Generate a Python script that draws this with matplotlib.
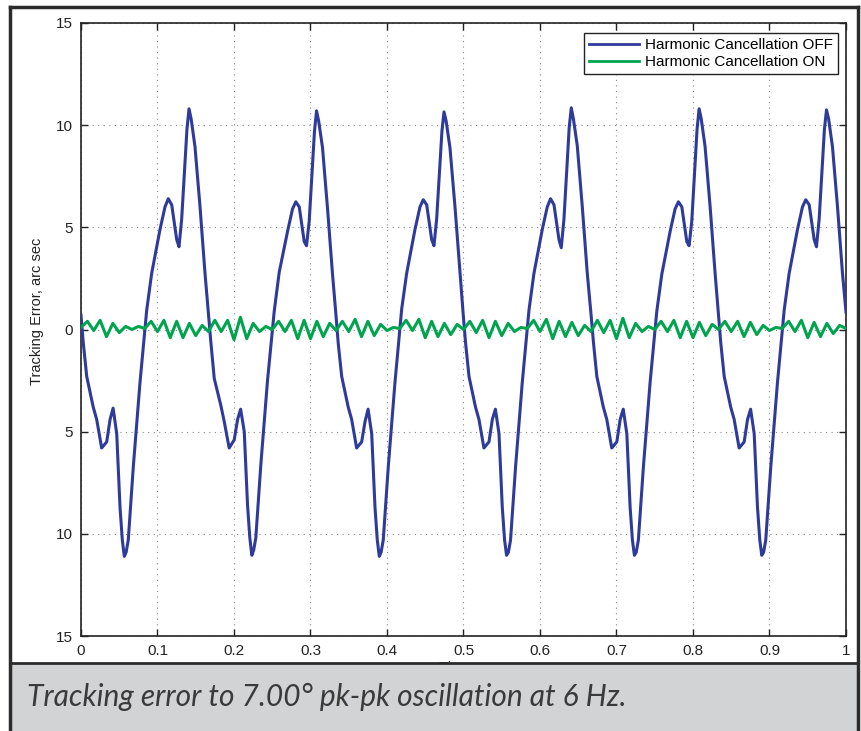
import numpy as np
import matplotlib
matplotlib.use("Agg")
import matplotlib.pyplot as plt
from matplotlib.patches import Rectangle
from matplotlib.lines import Line2D

# ---------------- data ----------------
blue_t = [
    0.0000, 0.0030, 0.0075, 0.0160, 0.0205, 0.0270, 0.0336, 0.0380, 0.0420, 0.0467, 0.0510,
    0.0540, 0.0566, 0.0590, 0.0618, 0.0684, 0.0771, 0.0859, 0.0924, 0.1033, 0.1098, 0.1141,
    0.1186, 0.1251, 0.1281, 0.1316, 0.1359, 0.1385, 0.1412, 0.1440, 0.1490, 0.1556, 0.1621,
    0.1667, 0.1697, 0.1742, 0.1827, 0.1872, 0.1937, 0.2003, 0.2047, 0.2087, 0.2134, 0.2177,
    0.2207, 0.2233, 0.2257, 0.2285, 0.2351, 0.2438, 0.2526, 0.2591, 0.2700, 0.2765, 0.2808,
    0.2853, 0.2918, 0.2948, 0.2983, 0.3026, 0.3052, 0.3079, 0.3107, 0.3157, 0.3223, 0.3288,
    0.3333, 0.3363, 0.3408, 0.3493, 0.3538, 0.3603, 0.3669, 0.3713, 0.3753, 0.3800, 0.3843,
    0.3873, 0.3899, 0.3923, 0.3951, 0.4017, 0.4104, 0.4192, 0.4257, 0.4366, 0.4431, 0.4474,
    0.4519, 0.4584, 0.4614, 0.4649, 0.4692, 0.4718, 0.4745, 0.4773, 0.4823, 0.4889, 0.4954,
    0.4997, 0.5027, 0.5072, 0.5157, 0.5202, 0.5267, 0.5333, 0.5377, 0.5417, 0.5464, 0.5507,
    0.5537, 0.5563, 0.5587, 0.5615, 0.5681, 0.5768, 0.5856, 0.5921, 0.6030, 0.6095, 0.6138,
    0.6183, 0.6248, 0.6278, 0.6313, 0.6356, 0.6382, 0.6409, 0.6437, 0.6487, 0.6553, 0.6618,
    0.6668, 0.6698, 0.6743, 0.6828, 0.6873, 0.6938, 0.7004, 0.7048, 0.7088, 0.7135, 0.7178,
    0.7208, 0.7234, 0.7258, 0.7286, 0.7352, 0.7439, 0.7527, 0.7592, 0.7701, 0.7766, 0.7809,
    0.7854, 0.7919, 0.7949, 0.7984, 0.8027, 0.8053, 0.8080, 0.8108, 0.8158, 0.8224, 0.8289,
    0.8333, 0.8363, 0.8408, 0.8493, 0.8538, 0.8603, 0.8669, 0.8713, 0.8753, 0.8800, 0.8843,
    0.8873, 0.8899, 0.8923, 0.8951, 0.9017, 0.9104, 0.9192, 0.9257, 0.9366, 0.9431, 0.9474,
    0.9519, 0.9584, 0.9614, 0.9649, 0.9692, 0.9718, 0.9745, 0.9773, 0.9823, 0.9889, 0.9954,
    1.0000,
]
blue_err = [
    0.7, -0.66, -2.3, -3.8, -4.4, -5.8, -5.5, -4.4, -3.85, -5.1, -8.7,
    -10.3, -11.1, -10.9, -10.3, -6.7, -2.6, 0.95, 2.75, 4.9, 6.0, 6.4,
    6.1, 4.4, 4.05, 5.4, 8.1, 9.8, 10.8, 10.3, 8.95, 6.0, 2.75,
    0.7, -0.6, -2.4, -3.7, -4.5, -5.8, -5.4, -4.4, -3.9, -5.0, -8.6,
    -10.2, -11.05, -10.8, -10.2, -6.6, -2.5, 0.9, 2.8, 4.8, 5.9, 6.25,
    6.0, 4.3, 4.1, 5.3, 8.0, 9.7, 10.7, 10.2, 8.9, 5.9, 2.7,
    0.7, -0.7, -2.3, -3.8, -4.4, -5.8, -5.5, -4.5, -3.9, -5.1, -8.7,
    -10.3, -11.1, -10.9, -10.3, -6.7, -2.6, 1.0, 2.75, 4.9, 6.0, 6.35,
    6.1, 4.4, 4.1, 5.4, 8.1, 9.7, 10.65, 10.2, 8.9, 6.0, 2.8,
    0.7, -0.65, -2.3, -3.8, -4.4, -5.8, -5.5, -4.4, -3.9, -5.1, -8.7,
    -10.3, -11.05, -10.9, -10.3, -6.7, -2.6, 0.95, 2.75, 4.9, 6.0, 6.4,
    6.1, 4.4, 4.0, 5.4, 8.2, 9.9, 10.85, 10.3, 9.0, 6.0, 2.75,
    0.7, -0.6, -2.3, -3.8, -4.4, -5.8, -5.5, -4.4, -3.9, -5.1, -8.7,
    -10.3, -11.05, -10.9, -10.3, -6.7, -2.6, 0.9, 2.7, 4.8, 5.9, 6.25,
    6.0, 4.3, 4.1, 5.3, 8.1, 9.8, 10.8, 10.3, 8.95, 6.0, 2.75,
    0.7, -0.65, -2.3, -3.8, -4.4, -5.8, -5.5, -4.4, -3.9, -5.1, -8.7,
    -10.3, -11.05, -10.9, -10.3, -6.7, -2.6, 0.95, 2.75, 4.9, 6.0, 6.35,
    6.1, 4.4, 4.05, 5.4, 8.1, 9.8, 10.75, 10.3, 8.95, 6.0, 2.75,
    0.85,
]

green_t = np.linspace(0.0, 1.0, 121)
green_err = [
    0.1, 0.4, -0.05, 0.45, -0.35, 0.3, -0.15, 0.15, 0.0, 0.15,
    0.05, 0.4, -0.1, 0.45, -0.4, 0.4, -0.4, 0.3, -0.3, 0.2,
    -0.1, 0.45, -0.1, 0.45, -0.5, 0.6, -0.45, 0.3, -0.1, 0.15,
    0.0, 0.4, -0.1, 0.45, -0.45, 0.45, -0.45, 0.4, -0.35, 0.3,
    -0.05, 0.4, -0.1, 0.5, -0.35, 0.4, -0.3, 0.25, -0.05, 0.1,
    0.05, 0.45, -0.05, 0.5, -0.4, 0.4, -0.35, 0.3, -0.25, 0.25,
    0.0, 0.4, -0.15, 0.45, -0.4, 0.4, -0.3, 0.3, -0.1, 0.1,
    0.05, 0.45, -0.1, 0.5, -0.45, 0.4, -0.35, 0.35, -0.3, 0.2,
    -0.1, 0.45, -0.15, 0.45, -0.45, 0.55, -0.4, 0.3, -0.1, 0.15,
    0.0, 0.4, -0.1, 0.45, -0.4, 0.4, -0.4, 0.35, -0.3, 0.25,
    0.0, 0.4, -0.1, 0.4, -0.35, 0.35, -0.25, 0.2, -0.05, 0.1,
    0.05, 0.4, -0.1, 0.45, -0.4, 0.35, -0.35, 0.3, -0.2, 0.2,
    0.05,
]

series_names = ["Harmonic Cancellation OFF", "Harmonic Cancellation ON"]
x_ticks = [0, 0.1, 0.2, 0.3, 0.4, 0.5, 0.6, 0.7, 0.8, 0.9, 1]
x_tick_labels = ["0", "0.1", "0.2", "0.3", "0.4", "0.5", "0.6", "0.7", "0.8", "0.9", "1"]
y_ticks = [-15, -10, -5, 0, 5, 10, 15]
y_tick_labels = ["15", "10", "5", "0", "5", "10", "15"]
x_label = "Time, s"
y_label = "Tracking Error, arc sec"
caption = "Tracking error to 7.00\u00b0 pk-pk oscillation at 6 Hz."

# ---------------- figure ----------------
W, H = 862, 731
fig = plt.figure(figsize=(W / 100, H / 100), dpi=100)
fig.patch.set_facecolor("white")

def fx(px):
    return px / W

def fy(py):
    return 1 - py / H

ax = fig.add_axes([fx(81), fy(636), fx(846) - fx(81), fy(23) - fy(636)])

blue = "#2e3b9b"
green = "#00a44f"
ax.plot(blue_t, blue_err, color=blue, lw=2.2, solid_joinstyle="round", zorder=3)
ax.plot(green_t, green_err, color=green, lw=2.2, solid_joinstyle="round", zorder=3)

ax.set_xlim(0, 1)
ax.set_ylim(-15, 15)
ax.set_xticks(x_ticks)
ax.set_xticklabels(x_tick_labels)
ax.set_yticks(y_ticks)
ax.set_yticklabels(y_tick_labels)

fam = ["Liberation Sans", "DejaVu Sans"]
for lab in ax.get_xticklabels() + ax.get_yticklabels():
    lab.set_fontfamily(fam)
    lab.set_fontsize(11)
    lab.set_color("#222222")

ax.tick_params(direction="in", length=5, width=1, top=True, right=True,
               colors="#222222", pad=6)
ax.grid(True, linestyle=(0, (1, 4)), color="#888888", linewidth=0.8)
for s in ax.spines.values():
    s.set_linewidth(1.2)
    s.set_color("#222222")

ax.set_ylabel(y_label, fontfamily=fam, fontsize=10.5, color="#222222")
ax.yaxis.set_label_coords(-0.048, 0.53)
ax.set_xlabel(x_label, fontfamily=fam, fontsize=11, color="#222222")
ax.xaxis.set_label_coords(0.5, -0.04)

handles = [Line2D([], [], color=blue, lw=2.0), Line2D([], [], color=green, lw=2.0)]
leg = ax.legend(handles, series_names, loc="upper right", bbox_to_anchor=(0.993, 0.988),
                prop={"family": fam, "size": 11},
                frameon=True, fancybox=False, framealpha=1, edgecolor="#222222",
                handlelength=3.3, handletextpad=0.4, borderpad=0.3, labelspacing=0.2,
                borderaxespad=0.2)
leg.get_frame().set_linewidth(1.0)

# caption box and outer frame
cap = Rectangle((fx(10), 0), fx(858) - fx(10), fy(663), transform=fig.transFigure,
                facecolor="#d1d3d4", edgecolor="none", zorder=10)
fig.patches.append(cap)
fig.add_artist(Line2D([fx(10), fx(858)], [fy(663), fy(663)], transform=fig.transFigure,
                      color="#2b2b2b", lw=2.0, zorder=11))
frame_kw = dict(transform=fig.transFigure, color="#2b2b2b", lw=2.5, zorder=12)
fig.add_artist(Line2D([fx(10), fx(10)], [0, fy(7)], **frame_kw))
fig.add_artist(Line2D([fx(10), fx(858)], [fy(7), fy(7)], **frame_kw))
fig.add_artist(Line2D([fx(858), fx(858)], [0, fy(7)], **frame_kw))

fig.text(fx(27), fy(697), caption, ha="left", va="center", fontsize=21.5,
         fontstyle="italic", fontfamily=["Lato", "DejaVu Sans"], fontweight="normal",
         color="#3a3a3a", zorder=13)

fig.savefig("out.png", dpi=100, facecolor="white")
